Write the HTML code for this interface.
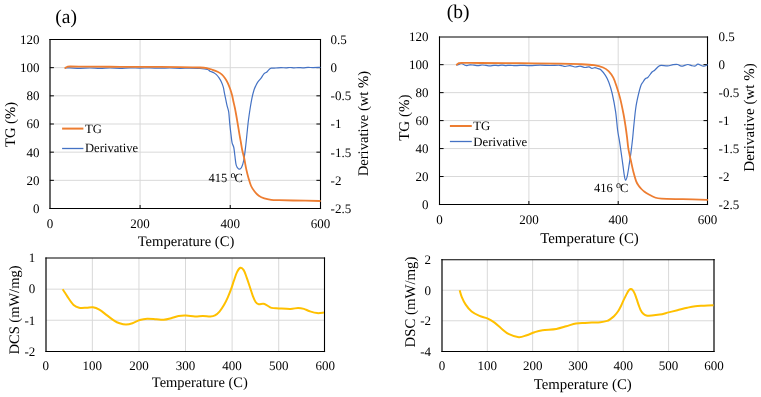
<!DOCTYPE html>
<html><head><meta charset="utf-8"><title>TG / DSC curves</title>
<style>
html,body{margin:0;padding:0;background:#fff;}
body{width:761px;height:397px;overflow:hidden;}
svg{display:block;will-change:transform;}
svg text{font-family:"Liberation Serif", serif;fill:#000;text-rendering:geometricPrecision;}
</style></head>
<body>
<svg width="761" height="397" viewBox="0 0 761 397">
<rect x="0" y="0" width="761" height="397" fill="#fff"/>
<line x1="49.9" y1="180.33" x2="320.4" y2="180.33" stroke="#D9D9D9" stroke-width="1"/>
<line x1="49.9" y1="152.17" x2="320.4" y2="152.17" stroke="#D9D9D9" stroke-width="1"/>
<line x1="49.9" y1="124" x2="320.4" y2="124" stroke="#D9D9D9" stroke-width="1"/>
<line x1="49.9" y1="95.83" x2="320.4" y2="95.83" stroke="#D9D9D9" stroke-width="1"/>
<line x1="49.9" y1="67.67" x2="320.4" y2="67.67" stroke="#D9D9D9" stroke-width="1"/>
<line x1="140.07" y1="39.5" x2="140.07" y2="208.5" stroke="#D9D9D9" stroke-width="1"/>
<line x1="230.23" y1="39.5" x2="230.23" y2="208.5" stroke="#D9D9D9" stroke-width="1"/>
<line x1="49.9" y1="180.33" x2="53.9" y2="180.33" stroke="#000000" stroke-width="1"/>
<line x1="316.4" y1="180.33" x2="320.4" y2="180.33" stroke="#000000" stroke-width="1"/>
<line x1="49.9" y1="152.17" x2="53.9" y2="152.17" stroke="#000000" stroke-width="1"/>
<line x1="316.4" y1="152.17" x2="320.4" y2="152.17" stroke="#000000" stroke-width="1"/>
<line x1="49.9" y1="124" x2="53.9" y2="124" stroke="#000000" stroke-width="1"/>
<line x1="316.4" y1="124" x2="320.4" y2="124" stroke="#000000" stroke-width="1"/>
<line x1="49.9" y1="95.83" x2="53.9" y2="95.83" stroke="#000000" stroke-width="1"/>
<line x1="316.4" y1="95.83" x2="320.4" y2="95.83" stroke="#000000" stroke-width="1"/>
<line x1="49.9" y1="67.67" x2="53.9" y2="67.67" stroke="#000000" stroke-width="1"/>
<line x1="316.4" y1="67.67" x2="320.4" y2="67.67" stroke="#000000" stroke-width="1"/>
<line x1="140.07" y1="205" x2="140.07" y2="208.5" stroke="#000000" stroke-width="1"/>
<line x1="230.23" y1="205" x2="230.23" y2="208.5" stroke="#000000" stroke-width="1"/>
<line x1="50" y1="39.5" x2="320.5" y2="39.5" stroke="#000" stroke-width="1.1" stroke-linecap="square"/>
<line x1="50" y1="208.5" x2="320.5" y2="208.5" stroke="#000" stroke-width="1.1" stroke-linecap="square"/>
<line x1="50" y1="39.5" x2="50" y2="208.5" stroke="#000" stroke-width="1.2" stroke-linecap="square"/>
<line x1="320.5" y1="39.5" x2="320.5" y2="208.5" stroke="#000" stroke-width="1.1" stroke-linecap="square"/>
<text x="39.4" y="212.9" font-size="13" text-anchor="end">0</text>
<text x="39.4" y="184.73" font-size="13" text-anchor="end">20</text>
<text x="39.4" y="156.57" font-size="13" text-anchor="end">40</text>
<text x="39.4" y="128.4" font-size="13" text-anchor="end">60</text>
<text x="39.4" y="100.23" font-size="13" text-anchor="end">80</text>
<text x="39.4" y="72.07" font-size="13" text-anchor="end">100</text>
<text x="39.4" y="43.9" font-size="13" text-anchor="end">120</text>
<text x="330.6" y="43.9" font-size="13" text-anchor="start">0.5</text>
<text x="330.6" y="72.07" font-size="13" text-anchor="start">0</text>
<text x="330.6" y="100.23" font-size="13" text-anchor="start">-0.5</text>
<text x="330.6" y="128.4" font-size="13" text-anchor="start">-1</text>
<text x="330.6" y="156.57" font-size="13" text-anchor="start">-1.5</text>
<text x="330.6" y="184.73" font-size="13" text-anchor="start">-2</text>
<text x="330.6" y="212.9" font-size="13" text-anchor="start">-2.5</text>
<text x="49.9" y="227.6" font-size="13" text-anchor="middle">0</text>
<text x="140.07" y="227.6" font-size="13" text-anchor="middle">200</text>
<text x="230.23" y="227.6" font-size="13" text-anchor="middle">400</text>
<text x="320.4" y="227.6" font-size="13" text-anchor="middle">600</text>
<line x1="439.6" y1="176.53" x2="707.5" y2="176.53" stroke="#D9D9D9" stroke-width="1"/>
<line x1="439.6" y1="148.57" x2="707.5" y2="148.57" stroke="#D9D9D9" stroke-width="1"/>
<line x1="439.6" y1="120.6" x2="707.5" y2="120.6" stroke="#D9D9D9" stroke-width="1"/>
<line x1="439.6" y1="92.63" x2="707.5" y2="92.63" stroke="#D9D9D9" stroke-width="1"/>
<line x1="439.6" y1="64.67" x2="707.5" y2="64.67" stroke="#D9D9D9" stroke-width="1"/>
<line x1="528.9" y1="36.7" x2="528.9" y2="204.5" stroke="#D9D9D9" stroke-width="1"/>
<line x1="618.2" y1="36.7" x2="618.2" y2="204.5" stroke="#D9D9D9" stroke-width="1"/>
<line x1="439.6" y1="176.53" x2="443.6" y2="176.53" stroke="#000000" stroke-width="1"/>
<line x1="703.5" y1="176.53" x2="707.5" y2="176.53" stroke="#000000" stroke-width="1"/>
<line x1="439.6" y1="148.57" x2="443.6" y2="148.57" stroke="#000000" stroke-width="1"/>
<line x1="703.5" y1="148.57" x2="707.5" y2="148.57" stroke="#000000" stroke-width="1"/>
<line x1="439.6" y1="120.6" x2="443.6" y2="120.6" stroke="#000000" stroke-width="1"/>
<line x1="703.5" y1="120.6" x2="707.5" y2="120.6" stroke="#000000" stroke-width="1"/>
<line x1="439.6" y1="92.63" x2="443.6" y2="92.63" stroke="#000000" stroke-width="1"/>
<line x1="703.5" y1="92.63" x2="707.5" y2="92.63" stroke="#000000" stroke-width="1"/>
<line x1="439.6" y1="64.67" x2="443.6" y2="64.67" stroke="#000000" stroke-width="1"/>
<line x1="703.5" y1="64.67" x2="707.5" y2="64.67" stroke="#000000" stroke-width="1"/>
<line x1="528.9" y1="201" x2="528.9" y2="204.5" stroke="#000000" stroke-width="1"/>
<line x1="618.2" y1="201" x2="618.2" y2="204.5" stroke="#000000" stroke-width="1"/>
<line x1="439.5" y1="37" x2="707.5" y2="37" stroke="#000" stroke-width="1.2" stroke-linecap="square"/>
<line x1="439.5" y1="204.5" x2="707.5" y2="204.5" stroke="#000" stroke-width="1.1" stroke-linecap="square"/>
<line x1="439.5" y1="37" x2="439.5" y2="204.5" stroke="#000" stroke-width="1.1" stroke-linecap="square"/>
<line x1="707.5" y1="37" x2="707.5" y2="204.5" stroke="#000" stroke-width="1.1" stroke-linecap="square"/>
<text x="428.6" y="208.9" font-size="13" text-anchor="end">0</text>
<text x="428.6" y="180.93" font-size="13" text-anchor="end">20</text>
<text x="428.6" y="152.97" font-size="13" text-anchor="end">40</text>
<text x="428.6" y="125" font-size="13" text-anchor="end">60</text>
<text x="428.6" y="97.03" font-size="13" text-anchor="end">80</text>
<text x="428.6" y="69.07" font-size="13" text-anchor="end">100</text>
<text x="428.6" y="41.1" font-size="13" text-anchor="end">120</text>
<text x="718.6" y="41.1" font-size="13" text-anchor="start">0.5</text>
<text x="718.6" y="69.07" font-size="13" text-anchor="start">0</text>
<text x="718.6" y="97.03" font-size="13" text-anchor="start">-0.5</text>
<text x="718.6" y="125" font-size="13" text-anchor="start">-1</text>
<text x="718.6" y="152.97" font-size="13" text-anchor="start">-1.5</text>
<text x="718.6" y="180.93" font-size="13" text-anchor="start">-2</text>
<text x="718.6" y="208.9" font-size="13" text-anchor="start">-2.5</text>
<text x="439.6" y="223.7" font-size="13" text-anchor="middle">0</text>
<text x="528.9" y="223.7" font-size="13" text-anchor="middle">200</text>
<text x="618.2" y="223.7" font-size="13" text-anchor="middle">400</text>
<text x="707.5" y="223.7" font-size="13" text-anchor="middle">600</text>
<line x1="46.1" y1="320.23" x2="324.4" y2="320.23" stroke="#D9D9D9" stroke-width="1"/>
<line x1="46.1" y1="289.17" x2="324.4" y2="289.17" stroke="#D9D9D9" stroke-width="1"/>
<line x1="92.35" y1="258.1" x2="92.35" y2="351.3" stroke="#D9D9D9" stroke-width="1"/>
<line x1="138.94" y1="258.1" x2="138.94" y2="351.3" stroke="#D9D9D9" stroke-width="1"/>
<line x1="185.53" y1="258.1" x2="185.53" y2="351.3" stroke="#D9D9D9" stroke-width="1"/>
<line x1="232.12" y1="258.1" x2="232.12" y2="351.3" stroke="#D9D9D9" stroke-width="1"/>
<line x1="278.71" y1="258.1" x2="278.71" y2="351.3" stroke="#D9D9D9" stroke-width="1"/>
<line x1="46" y1="258" x2="324.5" y2="258" stroke="#000" stroke-width="1.2" stroke-linecap="square"/>
<line x1="46" y1="351.5" x2="324.5" y2="351.5" stroke="#000" stroke-width="1.1" stroke-linecap="square"/>
<line x1="46" y1="258" x2="46" y2="351.5" stroke="#000" stroke-width="1.2" stroke-linecap="square"/>
<line x1="324.5" y1="258" x2="324.5" y2="351.5" stroke="#000" stroke-width="1.1" stroke-linecap="square"/>
<text x="35.3" y="355.6" font-size="13" text-anchor="end">-2</text>
<text x="35.3" y="324.53" font-size="13" text-anchor="end">-1</text>
<text x="35.3" y="293.47" font-size="13" text-anchor="end">0</text>
<text x="35.3" y="262.4" font-size="13" text-anchor="end">1</text>
<text x="45.76" y="370" font-size="13" text-anchor="middle">0</text>
<text x="92.35" y="370" font-size="13" text-anchor="middle">100</text>
<text x="138.94" y="370" font-size="13" text-anchor="middle">200</text>
<text x="185.53" y="370" font-size="13" text-anchor="middle">300</text>
<text x="232.12" y="370" font-size="13" text-anchor="middle">400</text>
<text x="278.71" y="370" font-size="13" text-anchor="middle">500</text>
<text x="325.3" y="370" font-size="13" text-anchor="middle">600</text>
<line x1="442" y1="320.77" x2="713.9" y2="320.77" stroke="#D9D9D9" stroke-width="1"/>
<line x1="442" y1="290.23" x2="713.9" y2="290.23" stroke="#D9D9D9" stroke-width="1"/>
<line x1="487.32" y1="259.7" x2="487.32" y2="351.3" stroke="#D9D9D9" stroke-width="1"/>
<line x1="532.63" y1="259.7" x2="532.63" y2="351.3" stroke="#D9D9D9" stroke-width="1"/>
<line x1="577.95" y1="259.7" x2="577.95" y2="351.3" stroke="#D9D9D9" stroke-width="1"/>
<line x1="623.27" y1="259.7" x2="623.27" y2="351.3" stroke="#D9D9D9" stroke-width="1"/>
<line x1="668.58" y1="259.7" x2="668.58" y2="351.3" stroke="#D9D9D9" stroke-width="1"/>
<line x1="442" y1="259.7" x2="714" y2="259.7" stroke="#000" stroke-width="1.1" stroke-linecap="square"/>
<line x1="442" y1="351.5" x2="714" y2="351.5" stroke="#000" stroke-width="1.1" stroke-linecap="square"/>
<line x1="442" y1="259.7" x2="442" y2="351.5" stroke="#000" stroke-width="1.2" stroke-linecap="square"/>
<line x1="714" y1="259.7" x2="714" y2="351.5" stroke="#000" stroke-width="1.2" stroke-linecap="square"/>
<text x="431" y="355.6" font-size="13" text-anchor="end">-4</text>
<text x="431" y="325.07" font-size="13" text-anchor="end">-2</text>
<text x="431" y="294.53" font-size="13" text-anchor="end">0</text>
<text x="431" y="264" font-size="13" text-anchor="end">2</text>
<text x="442" y="370.4" font-size="13" text-anchor="middle">0</text>
<text x="487.32" y="370.4" font-size="13" text-anchor="middle">100</text>
<text x="532.63" y="370.4" font-size="13" text-anchor="middle">200</text>
<text x="577.95" y="370.4" font-size="13" text-anchor="middle">300</text>
<text x="623.27" y="370.4" font-size="13" text-anchor="middle">400</text>
<text x="668.58" y="370.4" font-size="13" text-anchor="middle">500</text>
<text x="713.9" y="370.4" font-size="13" text-anchor="middle">600</text>
<path d="M65.3,67.9 C66.08,67.9 67.55,67.83 70,67.9 C72.45,67.97 76.67,68.28 80,68.3 C83.33,68.32 86.67,67.98 90,68 C93.33,68.02 96.67,68.4 100,68.4 C103.33,68.4 106.67,68.02 110,68 C113.33,67.98 116.67,68.32 120,68.3 C123.33,68.28 126.67,67.93 130,67.9 C133.33,67.87 136.67,68.1 140,68.1 C143.33,68.1 146.67,67.88 150,67.9 C153.33,67.92 156.67,68.18 160,68.2 C163.33,68.22 166.67,67.98 170,68 C173.33,68.02 176.67,68.27 180,68.3 C183.33,68.33 186.67,68.17 190,68.2 C193.33,68.23 197.08,68.28 200,68.5 C202.92,68.72 205.83,69.05 207.5,69.5 C209.17,69.95 208.95,70.67 210,71.2 C211.05,71.73 212.73,72.13 213.8,72.7 C214.87,73.27 215.55,73.77 216.4,74.6 C217.25,75.43 218.07,76.45 218.9,77.7 C219.73,78.95 220.67,80.52 221.4,82.1 C222.13,83.68 222.78,85.32 223.3,87.2 C223.82,89.08 224.08,91.32 224.5,93.4 C224.92,95.48 225.38,97.7 225.8,99.7 C226.22,101.7 226.52,103.35 227,105.4 C227.48,107.45 228.25,109.05 228.7,112 C229.15,114.95 229.32,119.33 229.7,123.1 C230.08,126.87 230.6,131.32 231,134.6 C231.4,137.88 231.63,140.65 232.1,142.8 C232.57,144.95 233.33,145.32 233.8,147.5 C234.27,149.68 234.5,152.95 234.9,155.9 C235.3,158.85 235.57,163.02 236.2,165.2 C236.83,167.38 237.82,168.62 238.7,169 C239.58,169.38 240.65,169 241.5,167.5 C242.35,166 243.1,163.58 243.8,160 C244.5,156.42 245.1,151.05 245.7,146 C246.3,140.95 246.95,133.95 247.4,129.7 C247.85,125.45 247.93,124.12 248.4,120.5 C248.87,116.88 249.6,111.78 250.2,108 C250.8,104.22 251.37,100.8 252,97.8 C252.63,94.8 253.37,92.02 254,90 C254.63,87.98 255.12,87.08 255.8,85.7 C256.48,84.32 257.22,82.95 258.1,81.7 C258.98,80.45 260.13,79.52 261.1,78.2 C262.07,76.88 262.98,74.8 263.9,73.8 C264.82,72.8 265.75,72.9 266.6,72.2 C267.45,71.5 268.22,70.27 269,69.6 C269.78,68.93 270.13,68.47 271.3,68.2 C272.47,67.93 274.38,68.1 276,68 C277.62,67.9 279.33,67.62 281,67.6 C282.67,67.58 284.5,67.92 286,67.9 C287.5,67.88 288.67,67.5 290,67.5 C291.33,67.5 292.67,67.88 294,67.9 C295.33,67.92 296.5,67.62 298,67.6 C299.5,67.58 301.33,67.83 303,67.8 C304.67,67.77 306.33,67.43 308,67.4 C309.67,67.37 311,67.6 313,67.6 C315,67.6 318.83,67.43 320,67.4" fill="none" stroke="#4472C4" stroke-width="1.2" stroke-linejoin="round" stroke-linecap="round"/>
<path d="M65.3,68 C65.58,67.82 66.22,67.15 67,66.9 C67.78,66.65 66.17,66.53 70,66.5 C73.83,66.47 81.67,66.65 90,66.7 C98.33,66.75 110,66.77 120,66.8 C130,66.83 140,66.85 150,66.9 C160,66.95 171.67,67 180,67.1 C188.33,67.2 195.42,67.3 200,67.5 C204.58,67.7 205.4,67.92 207.5,68.3 C209.6,68.68 210.92,69.22 212.6,69.8 C214.28,70.38 216.03,71 217.6,71.8 C219.17,72.6 220.73,73.5 222,74.6 C223.27,75.7 224.25,77.03 225.2,78.4 C226.15,79.77 226.87,81.03 227.7,82.8 C228.53,84.57 229.47,86.92 230.2,89 C230.93,91.08 231.58,93.3 232.1,95.3 C232.62,97.3 232.82,98.8 233.3,101 C233.78,103.2 234.4,105.5 235,108.5 C235.6,111.5 236.15,114.65 236.9,119 C237.65,123.35 238.82,130.6 239.5,134.6 C240.18,138.6 240.55,140.43 241,143 C241.45,145.57 241.67,147.45 242.2,150 C242.73,152.55 243.52,155.07 244.2,158.3 C244.88,161.53 245.6,166.17 246.3,169.4 C247,172.63 247.6,174.93 248.4,177.7 C249.2,180.47 250.07,183.7 251.1,186 C252.13,188.3 253.32,189.88 254.6,191.5 C255.88,193.12 257.18,194.55 258.8,195.7 C260.42,196.85 262.23,197.72 264.3,198.4 C266.37,199.08 268.7,199.5 271.2,199.8 C273.7,200.1 273.58,200.05 279.3,200.2 C285.02,200.35 298.72,200.57 305.5,200.7 C312.28,200.83 317.58,200.95 320,201" fill="none" stroke="#ED7D31" stroke-width="1.8" stroke-linejoin="round" stroke-linecap="round"/>
<path d="M456.8,65 C457.17,64.9 458.3,64.67 459,64.4 C459.7,64.13 460.33,63.47 461,63.4 C461.67,63.33 462.33,63.68 463,64 C463.67,64.32 464.33,65.03 465,65.3 C465.67,65.57 466.17,65.68 467,65.6 C467.83,65.52 468.83,64.87 470,64.8 C471.17,64.73 472.67,65.07 474,65.2 C475.33,65.33 476.67,65.63 478,65.6 C479.33,65.57 480.67,65.03 482,65 C483.33,64.97 484.67,65.27 486,65.4 C487.33,65.53 488.67,65.82 490,65.8 C491.33,65.78 492.67,65.33 494,65.3 C495.33,65.27 496.67,65.62 498,65.6 C499.33,65.58 500.67,65.2 502,65.2 C503.33,65.2 504.67,65.58 506,65.6 C507.33,65.62 508.5,65.28 510,65.3 C511.5,65.32 513.33,65.7 515,65.7 C516.67,65.7 517.5,65.32 520,65.3 C522.5,65.28 526.67,65.62 530,65.6 C533.33,65.58 536.67,65.22 540,65.2 C543.33,65.18 546.67,65.48 550,65.5 C553.33,65.52 557.5,65.13 560,65.3 C562.5,65.47 563.33,66.45 565,66.5 C566.67,66.55 568.33,65.52 570,65.6 C571.67,65.68 573.33,66.92 575,67 C576.67,67.08 578.33,66.02 580,66.1 C581.67,66.18 583.5,67.38 585,67.5 C586.5,67.62 587.83,66.65 589,66.8 C590.17,66.95 591,68.27 592,68.4 C593,68.53 594,67.57 595,67.6 C596,67.63 597.03,68.25 598,68.6 C598.97,68.95 599.57,68.57 600.8,69.7 C602.03,70.83 604.07,73.32 605.4,75.4 C606.73,77.48 607.67,79.18 608.8,82.2 C609.93,85.22 611.07,88.58 612.2,93.5 C613.33,98.42 614.7,105.62 615.6,111.7 C616.5,117.78 616.97,125.18 617.6,130 C618.23,134.82 618.8,136.78 619.4,140.6 C620,144.42 620.62,148.8 621.2,152.9 C621.78,157 622.37,161.35 622.9,165.2 C623.43,169.05 623.95,173.5 624.4,176 C624.85,178.5 625.12,180.23 625.6,180.2 C626.08,180.17 626.72,178.3 627.3,175.8 C627.88,173.3 628.5,169.02 629.1,165.2 C629.7,161.38 630.32,157.3 630.9,152.9 C631.48,148.5 632.15,142.95 632.6,138.8 C633.05,134.65 633.12,132.8 633.6,128 C634.08,123.2 634.92,114.6 635.5,110 C636.08,105.4 636.27,104.28 637.1,100.4 C637.93,96.52 639.52,89.77 640.5,86.7 C641.48,83.63 642.17,83.37 643,82 C643.83,80.63 644.7,79.25 645.5,78.5 C646.3,77.75 646.72,78.58 647.8,77.5 C648.88,76.42 650.85,73.22 652,72 C653.15,70.78 653.63,71.12 654.7,70.2 C655.77,69.28 657.32,67.32 658.4,66.5 C659.48,65.68 659.67,65.4 661.2,65.3 C662.73,65.2 665.62,66 667.6,65.9 C669.58,65.8 671.42,64.93 673.1,64.7 C674.78,64.47 676.32,64.25 677.7,64.5 C679.08,64.75 679.72,66.2 681.4,66.2 C683.08,66.2 686.12,64.6 687.8,64.5 C689.48,64.4 690.27,65.35 691.5,65.6 C692.73,65.85 694.12,66.23 695.2,66 C696.28,65.77 696.62,64.17 698,64.2 C699.38,64.23 701.95,66.1 703.5,66.2 C705.05,66.3 706.67,65.03 707.3,64.8" fill="none" stroke="#4472C4" stroke-width="1.2" stroke-linejoin="round" stroke-linecap="round"/>
<path d="M456.8,64.7 C457.08,64.47 457.63,63.6 458.5,63.3 C459.37,63 458.42,62.95 462,62.9 C465.58,62.85 470.33,62.95 480,63 C489.67,63.05 506.67,63.1 520,63.2 C533.33,63.3 550,63.43 560,63.6 C570,63.77 574.33,63.93 580,64.2 C585.67,64.47 590.15,64.65 594,65.2 C597.85,65.75 600.63,66.48 603.1,67.5 C605.57,68.52 607.1,69.6 608.8,71.3 C610.5,73 611.98,75.13 613.3,77.7 C614.62,80.27 615.57,83.3 616.7,86.7 C617.83,90.1 618.97,93.55 620.1,98.1 C621.23,102.65 622.6,109.35 623.5,114 C624.4,118.65 624.92,122.17 625.5,126 C626.08,129.83 626.55,133.4 627,137 C627.45,140.6 627.77,144.6 628.2,147.6 C628.63,150.6 629.15,152.8 629.6,155 C630.05,157.2 630.25,157.92 630.9,160.8 C631.55,163.68 632.63,168.92 633.5,172.3 C634.37,175.68 635.27,178.9 636.1,181.1 C636.93,183.3 637.62,184.18 638.5,185.5 C639.38,186.82 640.4,187.95 641.4,189 C642.4,190.05 643.32,190.92 644.5,191.8 C645.68,192.68 646.75,193.35 648.5,194.3 C650.25,195.25 652.83,196.78 655,197.5 C657.17,198.22 656.9,198.32 661.5,198.6 C666.1,198.88 674.97,199 682.6,199.2 C690.23,199.4 703.18,199.7 707.3,199.8" fill="none" stroke="#ED7D31" stroke-width="1.8" stroke-linejoin="round" stroke-linecap="round"/>
<path d="M62.6,289.3 C63.08,290 64.58,292.12 65.5,293.5 C66.42,294.88 66.75,295.68 68.1,297.6 C69.45,299.52 71.77,303.32 73.6,305 C75.43,306.68 76.95,307.25 79.1,307.7 C81.25,308.15 84.2,307.78 86.5,307.7 C88.8,307.62 90.77,306.88 92.9,307.2 C95.03,307.52 97,308.28 99.3,309.6 C101.6,310.92 104.23,313.27 106.7,315.1 C109.17,316.93 111.95,319.23 114.1,320.6 C116.25,321.97 117.62,322.63 119.6,323.3 C121.58,323.97 123.85,324.6 126,324.6 C128.15,324.6 130.2,324.07 132.5,323.3 C134.8,322.53 137.35,320.77 139.8,320 C142.25,319.23 144.43,318.82 147.2,318.7 C149.97,318.58 153.65,319.13 156.4,319.3 C159.15,319.47 161.25,319.88 163.7,319.7 C166.15,319.52 168.63,318.82 171.1,318.2 C173.57,317.58 176.02,316.43 178.5,316 C180.98,315.57 183.25,315.53 186,315.6 C188.75,315.67 192.18,316.33 195,316.4 C197.82,316.47 200.32,315.98 202.9,316 C205.48,316.02 208.48,316.6 210.5,316.5 C212.52,316.4 213.5,316.22 215,315.4 C216.5,314.58 217.98,313.37 219.5,311.6 C221.02,309.83 222.72,307.18 224.1,304.8 C225.48,302.42 226.67,299.82 227.8,297.3 C228.93,294.78 229.88,292.47 230.9,289.7 C231.92,286.93 232.9,283.58 233.9,280.7 C234.9,277.82 235.82,274.55 236.9,272.4 C237.98,270.25 239.27,268.18 240.4,267.8 C241.53,267.42 242.65,268.47 243.7,270.1 C244.75,271.73 245.68,274.83 246.7,277.6 C247.72,280.37 248.78,283.67 249.8,286.7 C250.82,289.73 251.8,293.2 252.8,295.8 C253.8,298.4 254.82,300.88 255.8,302.3 C256.78,303.72 257.45,304.05 258.7,304.3 C259.95,304.55 261.92,303.63 263.3,303.8 C264.68,303.97 265.62,304.62 267,305.3 C268.38,305.98 269.58,307.38 271.6,307.9 C273.62,308.42 275.95,308.23 279.1,308.4 C282.25,308.57 287.33,308.97 290.5,308.9 C293.67,308.83 295.87,308 298.1,308 C300.33,308 301.98,308.37 303.9,308.9 C305.82,309.43 307.38,310.5 309.6,311.2 C311.82,311.9 314.8,312.88 317.2,313.1 C319.6,313.32 322.87,312.6 324,312.5" fill="none" stroke="#FFC000" stroke-width="2" stroke-linejoin="round" stroke-linecap="butt"/>
<path d="M459.7,290.3 C460.03,291.38 460.7,294.42 461.7,296.8 C462.7,299.18 464.05,302.15 465.7,304.6 C467.35,307.05 469.3,309.62 471.6,311.5 C473.9,313.38 476.88,314.75 479.5,315.9 C482.12,317.05 484.85,317.32 487.3,318.4 C489.75,319.48 491.9,320.75 494.2,322.4 C496.5,324.05 498.63,326.33 501.1,328.3 C503.57,330.27 506.03,332.72 509,334.2 C511.97,335.68 515.93,337.03 518.9,337.2 C521.87,337.37 524.18,336.03 526.8,335.2 C529.42,334.37 531.98,333.02 534.6,332.2 C537.22,331.38 538.88,330.85 542.5,330.3 C546.12,329.75 552.35,329.57 556.3,328.9 C560.25,328.23 562.92,327.22 566.2,326.3 C569.48,325.38 572.87,323.95 576,323.4 C579.13,322.85 582.37,323.13 585,323 C587.63,322.87 589.23,322.73 591.8,322.6 C594.37,322.47 597.83,322.48 600.4,322.2 C602.97,321.92 605.6,321.38 607.2,320.9 C608.8,320.42 608.87,320.07 610,319.3 C611.13,318.53 612.65,317.63 614,316.3 C615.35,314.97 616.92,313.07 618.1,311.3 C619.28,309.53 620.18,307.55 621.1,305.7 C622.02,303.85 622.77,301.97 623.6,300.2 C624.43,298.43 625.27,296.7 626.1,295.1 C626.93,293.5 627.83,291.6 628.6,290.6 C629.37,289.6 630.02,289.18 630.7,289.1 C631.38,289.02 632.03,289.35 632.7,290.1 C633.37,290.85 634.03,292.08 634.7,293.6 C635.37,295.12 636.03,297.27 636.7,299.2 C637.37,301.13 638.03,303.37 638.7,305.2 C639.37,307.03 639.93,308.77 640.7,310.2 C641.47,311.63 642.37,312.92 643.3,313.8 C644.23,314.68 644.88,315.2 646.3,315.5 C647.72,315.8 649.57,315.75 651.8,315.6 C654.03,315.45 656.9,315.13 659.7,314.6 C662.5,314.07 665.65,313.13 668.6,312.4 C671.55,311.67 674.28,310.98 677.4,310.2 C680.52,309.42 684.33,308.37 687.3,307.7 C690.27,307.03 692.42,306.53 695.2,306.2 C697.98,305.87 700.95,305.87 704,305.7 C707.05,305.53 711.92,305.28 713.5,305.2" fill="none" stroke="#FFC000" stroke-width="2" stroke-linejoin="round" stroke-linecap="butt"/>
<line x1="62.1" y1="128.6" x2="83.4" y2="128.6" stroke="#ED7D31" stroke-width="2"/>
<text x="85" y="132.7" font-size="12.7" text-anchor="start">TG</text>
<line x1="62.1" y1="148.5" x2="83.4" y2="148.5" stroke="#4472C4" stroke-width="1.3"/>
<text x="85" y="152.3" font-size="12.6" text-anchor="start">Derivative</text>
<line x1="449.9" y1="126" x2="471.8" y2="126" stroke="#ED7D31" stroke-width="2"/>
<text x="473.3" y="130" font-size="12.8" text-anchor="start">TG</text>
<line x1="449.9" y1="141.5" x2="471.8" y2="141.5" stroke="#4472C4" stroke-width="1.3"/>
<text x="473.3" y="145.7" font-size="12.8" text-anchor="start">Derivative</text>
<text x="208.5" y="181.9" font-size="12.5" text-anchor="start">415 <tspan font-size="10" dy="-3.9">o</tspan><tspan dy="3.9" dx="-0.9">C</tspan></text>
<text x="594.1" y="192.2" font-size="12.5" text-anchor="start">416 <tspan font-size="10" dy="-3.9">o</tspan><tspan dy="3.9" dx="-0.9">C</tspan></text>
<text x="55.3" y="22.7" font-size="19.5" text-anchor="start">(a)</text>
<text x="446.8" y="17.7" font-size="19.5" text-anchor="start">(b)</text>
<text x="186" y="246.3" font-size="14.6" text-anchor="middle">Temperature (C)</text>
<text x="589.5" y="243.4" font-size="14.9" text-anchor="middle">Temperature (C)</text>
<text x="199.8" y="386.6" font-size="14.5" text-anchor="middle">Temperature (C)</text>
<text x="582.7" y="389.4" font-size="14.8" text-anchor="middle">Temperature (C)</text>
<text x="0" y="0" font-size="14.6" text-anchor="middle" transform="translate(15,124.5) rotate(-90)">TG (%)</text>
<text x="0" y="0" font-size="15" text-anchor="middle" transform="translate(408.8,117.7) rotate(-90)">TG (%)</text>
<text x="0" y="0" font-size="14.6" text-anchor="middle" transform="translate(368,123.6) rotate(-90)">Derivative (wt %)</text>
<text x="0" y="0" font-size="15" text-anchor="middle" transform="translate(753.7,117.5) rotate(-90)">Derivative (wt %)</text>
<text x="0" y="0" font-size="14.5" text-anchor="middle" transform="translate(19.4,310) rotate(-90)">DCS (mW/mg)</text>
<text x="0" y="0" font-size="14.8" text-anchor="middle" transform="translate(415,302) rotate(-90)">DSC (mW/mg)</text>
</svg>
</body></html>
